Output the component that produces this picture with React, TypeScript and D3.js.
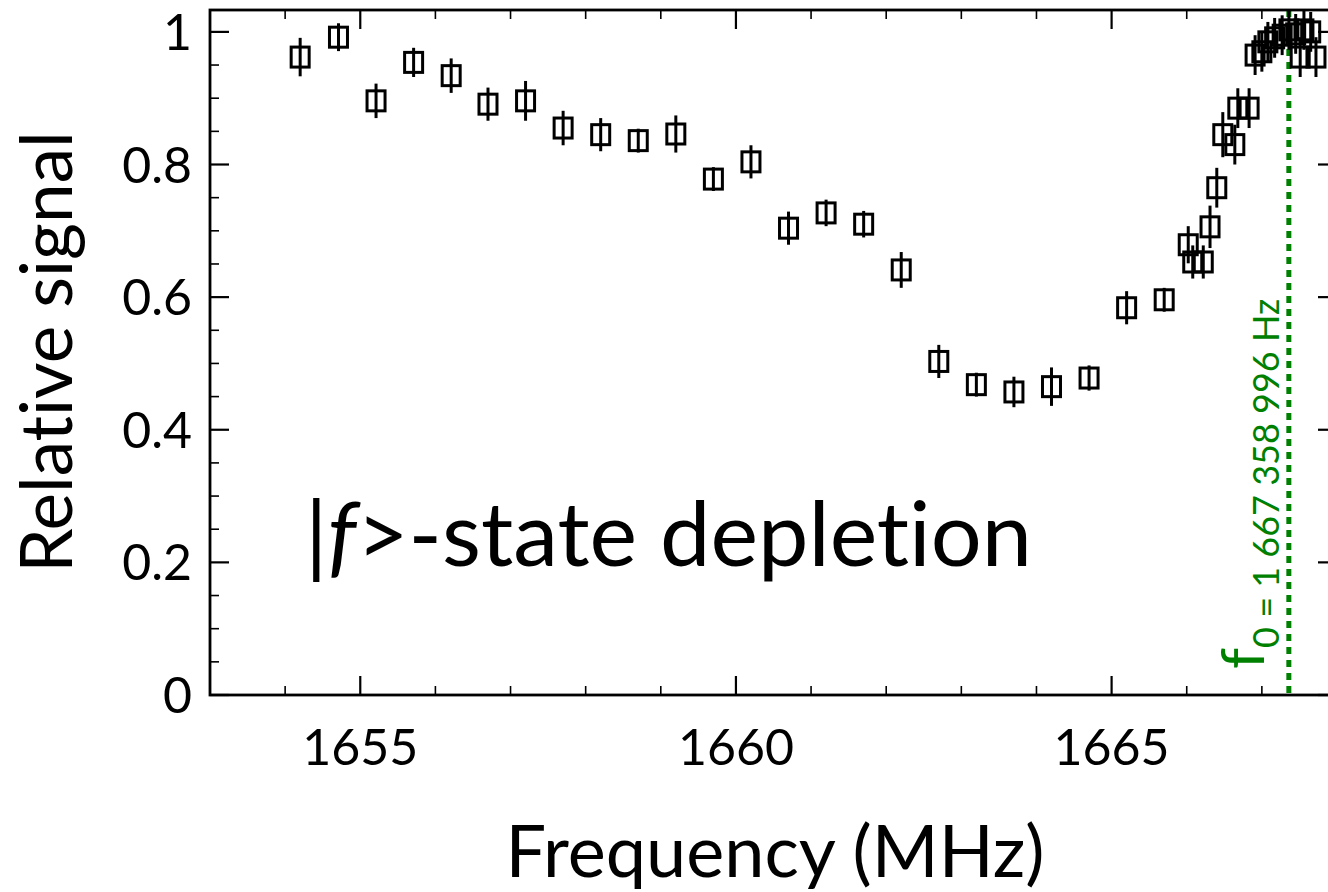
import React from "react";
import * as d3 from "d3";

// Frequency (MHz) of each measurement
const freqMHz = [
  1654.2, 1654.71, 1655.21, 1655.71, 1656.21, 1656.7, 1657.2, 1657.7, 1658.2, 1658.7,
  1659.2, 1659.7, 1660.2, 1660.7, 1661.2, 1661.7, 1662.2, 1662.7, 1663.2, 1663.7,
  1664.2, 1664.7, 1665.2, 1665.7,
  1666.02, 1666.08, 1666.22, 1666.31, 1666.4, 1666.48, 1666.64, 1666.68, 1666.83,
  1666.91, 1667.0, 1667.08, 1667.17, 1667.27, 1667.36, 1667.45, 1667.51, 1667.56,
  1667.65, 1667.72,
];
// Relative signal
const relSignal = [
  0.962, 0.992, 0.896, 0.954, 0.934, 0.891, 0.896, 0.855, 0.845, 0.836,
  0.846, 0.778, 0.804, 0.704, 0.727, 0.71, 0.641, 0.503, 0.468, 0.457,
  0.465, 0.478, 0.584, 0.596,
  0.679, 0.653, 0.653, 0.706, 0.765, 0.845, 0.83, 0.885, 0.885,
  0.965, 0.97, 0.985, 0.991, 0.995, 1.003, 0.997, 0.962, 1.003,
  1.0, 0.962,
];
// Error bar half-heights
const errBar = [
  0.029, 0.021, 0.026, 0.022, 0.026, 0.025, 0.03, 0.026, 0.025, 0.018,
  0.028, 0.018, 0.025, 0.025, 0.02, 0.02, 0.027, 0.025, 0.018, 0.023,
  0.029, 0.019, 0.025, 0.018,
  0.028, 0.025, 0.025, 0.032, 0.03, 0.034, 0.03, 0.03, 0.03,
  0.03, 0.03, 0.03, 0.03, 0.03, 0.03, 0.03, 0.03, 0.03,
  0.03, 0.03,
];

const xMajorTicks = [1655, 1660, 1665];
const xMinorTicks = [1654, 1656, 1657, 1658, 1659, 1661, 1662, 1663, 1664, 1666, 1667];
const yMajorTicks = [0, 0.2, 0.4, 0.6, 0.8, 1];
const yTickLabels = ["0", "0.2", "0.4", "0.6", "0.8", "1"];
const yMinorTicks = [0.05, 0.1, 0.15, 0.25, 0.3, 0.35, 0.45, 0.5, 0.55, 0.65, 0.7, 0.75, 0.85, 0.9, 0.95];
const f0MHz = 1667.358996;

const W = 1328;
const H = 892;
const left = 210;
const right = 1337;
const top = 10;
const bottom = 695;

const FONT = "Lato, 'Open Sans', sans-serif";
const GREEN = "#008000";

export default function App() {
  const x = d3.scaleLinear().domain([1653, 1668]).range([left, right]);
  const y = d3.scaleLinear().domain([0, 1.033]).range([bottom, top]);

  const majorLen = 19;
  const minorLen = 9;

  return (
    <svg
      width={W}
      height={H}
      style={{ position: "absolute", left: 0, top: 0, background: "#fff", fontVariantLigatures: "none" }}
      fontFamily={FONT}
    >
      {/* f0 dotted line */}
      <line
        x1={x(f0MHz)}
        x2={x(f0MHz)}
        y1={top}
        y2={bottom}
        stroke={GREEN}
        strokeWidth={5}
        strokeDasharray="7 6"
      />

      {/* data */}
      <g>
        {freqMHz.map((f, i) => {
          const cx = x(f);
          const cy = y(relSignal[i]);
          return (
            <g key={i}>
              <line
                x1={cx}
                x2={cx}
                y1={y(relSignal[i] + errBar[i])}
                y2={y(relSignal[i] - errBar[i])}
                stroke="#000"
                strokeWidth={3}
              />
              <rect x={cx - 9} y={cy - 10} width={18} height={20} fill="none" stroke="#000" strokeWidth={3} />
            </g>
          );
        })}
      </g>

      {/* frame */}
      <rect x={left} y={top} width={right - left} height={bottom - top} fill="none" stroke="#000" strokeWidth={2.8} />

      {/* x ticks bottom & top */}
      {xMajorTicks.map((t) => (
        <g key={"xM" + t}>
          <line x1={x(t)} x2={x(t)} y1={bottom} y2={bottom - majorLen} stroke="#000" strokeWidth={2.2} />
          <line x1={x(t)} x2={x(t)} y1={top} y2={top + majorLen} stroke="#000" strokeWidth={2.2} />
          <text x={x(t)} y={765} textAnchor="middle" fontSize={50} fill="#000">
            {t}
          </text>
        </g>
      ))}
      {xMinorTicks.map((t) => (
        <g key={"xm" + t}>
          <line x1={x(t)} x2={x(t)} y1={bottom} y2={bottom - minorLen} stroke="#000" strokeWidth={1.6} />
          <line x1={x(t)} x2={x(t)} y1={top} y2={top + minorLen} stroke="#000" strokeWidth={1.6} />
        </g>
      ))}

      {/* y ticks left & right */}
      {yMajorTicks.map((t, i) => (
        <g key={"yM" + t}>
          <line x1={left} x2={left + majorLen} y1={y(t)} y2={y(t)} stroke="#000" strokeWidth={2.2} />
          <line x1={right} x2={right - majorLen} y1={y(t)} y2={y(t)} stroke="#000" strokeWidth={2.2} />
          <text x={192} y={y(t) + 18} textAnchor="end" fontSize={50} fill="#000">
            {yTickLabels[i]}
          </text>
        </g>
      ))}
      {yMinorTicks.map((t) => (
        <g key={"ym" + t}>
          <line x1={left} x2={left + minorLen} y1={y(t)} y2={y(t)} stroke="#000" strokeWidth={1.6} />
          <line x1={right} x2={right - minorLen} y1={y(t)} y2={y(t)} stroke="#000" strokeWidth={1.6} />
        </g>
      ))}

      {/* axis titles */}
      <text x={775} y={877} textAnchor="middle" fontSize={72} fill="#000">
        Frequency (MHz)
      </text>
      <text
        transform={`translate(72, 352) rotate(-90)`}
        textAnchor="middle"
        fontSize={71}
        fill="#000"
      >
        Relative signal
      </text>

      {/* annotation */}
      <text x={305} y={566} fontSize={90} fill="#000">
        <tspan>|</tspan>
        <tspan fontStyle="italic">f</tspan>
        <tspan>&gt;-state depletion</tspan>
      </text>

      {/* f0 label */}
      <text transform={`translate(1264, 669) rotate(-90)`} fill={GREEN}>
        <tspan fontSize={60}>f</tspan>
        <tspan fontSize={36} dy={15}>0 = 1 667 358 996 Hz</tspan>
      </text>
    </svg>
  );
}
